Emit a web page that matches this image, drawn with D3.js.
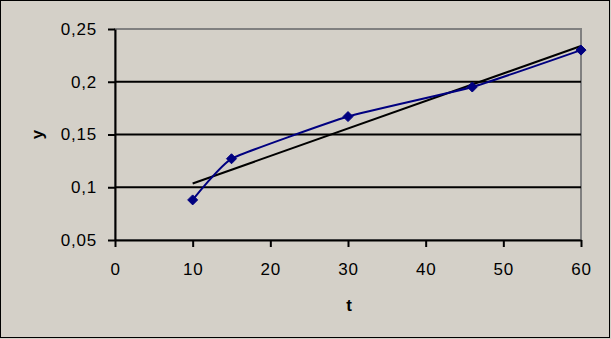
<!DOCTYPE html>
<html>
<head>
<meta charset="utf-8">
<script src="https://cdn.jsdelivr.net/npm/d3@7"></script>
<style>
  body { margin: 0; background: #d4d0c8; }
  svg { display: block; }
</style>
</head>
<body>
<svg id="chart" width="611" height="339"></svg>
<script>
// data
var tVals = [10, 15, 30, 46, 60];
var yVals = [0.088, 0.127, 0.167, 0.195, 0.230];
var xTickVals = [0, 10, 20, 30, 40, 50, 60];
var yTickVals = [0.05, 0.1, 0.15, 0.2, 0.25];

var BG_COL = "#d4d0c8";
var LINE_COL = "#000080";
var FONT_FMLY = "'Liberation Sans', Arial, sans-serif";

var svg = d3.select("#chart");

// outer frame
svg.append("rect")
   .attr("x", 0.5).attr("y", 0.5)
   .attr("width", 609).attr("height", 337)
   .style("fill", BG_COL)
   .style("stroke", "#000")
   .style("stroke-width", 1);

var plotL = 115, plotR = 581, plotT = 29, plotB = 240;

var xScale = d3.scaleLinear().domain([0, 60]).range([plotL, plotR]);
var yScale = d3.scaleLinear().domain([0.05, 0.25]).range([plotB, plotT]);

var fmt = function(d) { return String(+d.toFixed(2)).replace(".", ","); };

// plot area border (grey top/right)
svg.append("rect")
   .attr("x", plotL).attr("y", plotT)
   .attr("width", plotR - plotL).attr("height", plotB - plotT)
   .style("fill", "none")
   .style("stroke", "#808080")
   .style("stroke-width", 2);

// gridlines
svg.append("g")
   .selectAll("line")
   .data(yTickVals.filter(function(d) { return d > 0.06 && d < 0.24; }))
   .enter()
   .append("line")
   .attr("x1", plotL).attr("x2", plotR)
   .attr("y1", function(d) { return yScale(d); })
   .attr("y2", function(d) { return yScale(d); })
   .style("stroke", "#000")
   .style("stroke-width", 2);

var yAxis = d3.axisLeft(yScale)
   .tickValues(yTickVals)
   .tickFormat(fmt)
   .tickSize(7)
   .tickSizeOuter(0)
   .tickPadding(11);

var xAxis = d3.axisBottom(xScale)
   .tickValues(xTickVals)
   .tickFormat(function(d) { return d; })
   .tickSize(7)
   .tickSizeOuter(0)
   .tickPadding(16);

var gy = svg.append("g")
   .attr("transform", "translate(" + plotL + ",0)")
   .call(yAxis);

var gx = svg.append("g")
   .attr("transform", "translate(0," + plotB + ")")
   .call(xAxis);

[gx, gy].forEach(function(g) {
    g.selectAll("path, line").style("stroke", "#000").style("stroke-width", 2);
    g.selectAll("text")
     .style("font-family", FONT_FMLY)
     .style("font-size", "17px")
     .style("letter-spacing", "0.8px")
     .style("fill", "#000");
});

// trend line (least squares)
var mx = d3.mean(tVals), my = d3.mean(yVals);
var sxy = d3.sum(tVals, function(t, i) { return (t - mx) * (yVals[i] - my); });
var sxx = d3.sum(tVals, function(t) { return (t - mx) * (t - mx); });
var slope = sxy / sxx, icpt = my - slope * mx;
var tMin = d3.min(tVals), tMax = d3.max(tVals);

svg.append("line")
   .attr("x1", xScale(tMin)).attr("y1", yScale(icpt + slope * tMin))
   .attr("x2", xScale(tMax)).attr("y2", yScale(icpt + slope * tMax))
   .style("stroke", "#000")
   .style("stroke-width", 2);

// smoothed series
var pts = tVals.map(function(t, i) { return [xScale(t), yScale(yVals[i])]; });

svg.append("path")
   .datum(pts)
   .attr("d", d3.line().curve(d3.curveCardinal.tension(0.6)))
   .style("fill", "none")
   .style("stroke", LINE_COL)
   .style("stroke-width", 2);

svg.append("g")
   .selectAll("path")
   .data(pts)
   .enter()
   .append("path")
   .attr("transform", function(d) { return "translate(" + d[0] + "," + d[1] + ")"; })
   .attr("d", "M0,-5L5,0L0,5L-5,0Z")
   .style("fill", LINE_COL)
   .style("stroke", LINE_COL)
   .style("stroke-width", 1);

// axis titles
svg.append("text")
   .attr("x", (plotL + plotR) / 2 + 1)
   .attr("y", 311)
   .attr("text-anchor", "middle")
   .style("font-family", FONT_FMLY)
   .style("font-size", "17px")
   .style("font-weight", "bold")
   .text("t");

svg.append("text")
   .attr("transform", "translate(43," + ((plotT + plotB) / 2) + ") rotate(-90)")
   .attr("text-anchor", "middle")
   .style("font-family", FONT_FMLY)
   .style("font-size", "17px")
   .style("font-weight", "bold")
   .text("y");
</script>
</body>
</html>
